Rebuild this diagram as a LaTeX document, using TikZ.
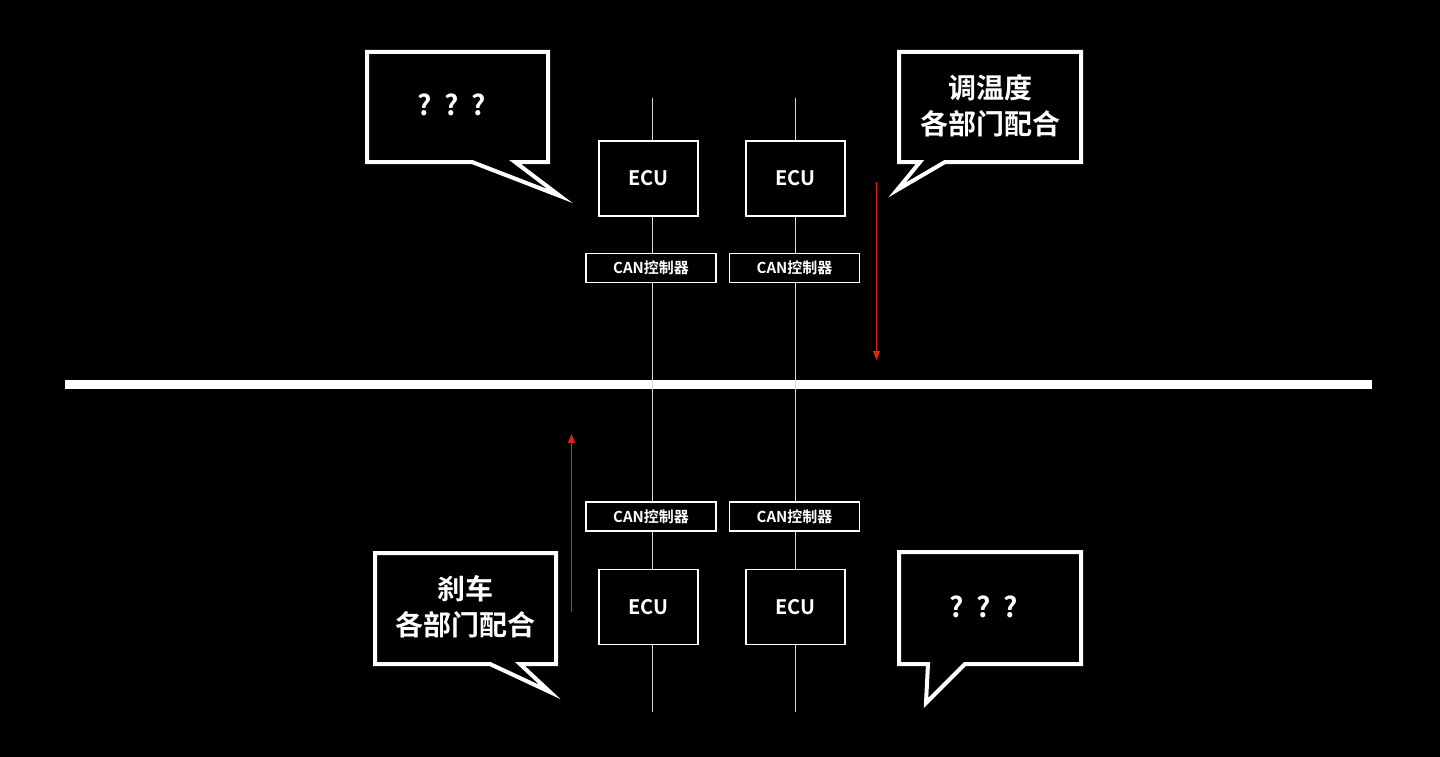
\documentclass[tikz,border=0pt]{standalone}
\usepackage{fontspec}
\setmainfont{Noto Sans CJK SC}[BoldFont={* Bold}]
\usetikzlibrary{arrows.meta}
\definecolor{arrowred}{RGB}{230,30,20}
\begin{document}
\begin{tikzpicture}[x=1pt,y=-1pt,
  box/.style={draw=white,line width=1.5pt,fill=black,text=white,font=\bfseries},
  ecu/.style={box,minimum width=99pt,minimum height=75pt,font=\fontsize{20}{22}\selectfont\bfseries},
  can/.style={box,minimum width=130pt,minimum height=29pt,font=\fontsize{15}{17}\selectfont\bfseries,inner sep=0pt},
  bubble/.style={draw=white,line width=4pt,fill=black,line join=miter},
  btext/.style={text=white,font=\fontsize{28}{36}\selectfont\bfseries,align=center},
  redarrow/.style={draw=arrowred,line width=1.2pt,-{Triangle[length=9pt,width=7pt]}}]
\fill[black] (0,0) rectangle (1440,757);
\useasboundingbox (0,0) rectangle (1440,757);
% bus
\coordinate (busL) at (65,384); \coordinate (busR) at (1372,384);
\draw[white,line width=9pt] (busL) -- (busR);
% verticals
\coordinate (v1t) at (652,98); \coordinate (v1b) at (652,712);
\coordinate (v2t) at (795,98); \coordinate (v2b) at (795,712);
\draw[white!85!black,line width=1pt] (v1t) -- (v1b);
\draw[white!85!black,line width=1pt] (v2t) -- (v2b);
% ECUs
\node[ecu] (e1) at (648.5,178.5) {ECU};
\node[ecu] (e2) at (795.5,178.5) {ECU};
\node[ecu] (e3) at (648.5,607) {ECU};
\node[ecu] (e4) at (795.5,607) {ECU};
% CAN
\node[can] (c1) at (651,268) {CAN控制器};
\node[can] (c2) at (794.5,268) {CAN控制器};
\node[can] (c3) at (651,516.5) {CAN控制器};
\node[can] (c4) at (794.5,516.5) {CAN控制器};
% red arrows
\coordinate (r1a) at (876.5,182); \coordinate (r1b) at (876.5,360);
\coordinate (r2a) at (571.5,612); \coordinate (r2b) at (571.5,434);
\draw[redarrow] (r1a) -- (r1b);
\draw[redarrow] (r2a) -- (r2b);
% bubbles
\draw[bubble] (367,52) -- (548,52) -- (548,162) -- (515,162) -- (560,196) -- (472,162) -- (367,162) -- cycle;
\node[btext] (t1) at (452,105) {?\ \ ?\ \ ?};
\draw[bubble] (899,52) -- (1081,52) -- (1081,162) -- (945,162) -- (897,190) -- (920,162) -- (899,162) -- cycle;
\node[btext] (t2) at (990,106) {调温度\\各部门配合};
\draw[bubble] (375,553) -- (556,553) -- (556,664) -- (520,664) -- (550,692) -- (490,664) -- (375,664) -- cycle;
\node[btext] (t3) at (465,607) {刹车\\各部门配合};
\draw[bubble] (899,552) -- (1081,552) -- (1081,664) -- (965,664) -- (926,703) -- (928,664) -- (899,664) -- cycle;
\node[btext] (t4) at (984,607) {?\ \ ?\ \ ?};
\end{tikzpicture}
\end{document}
